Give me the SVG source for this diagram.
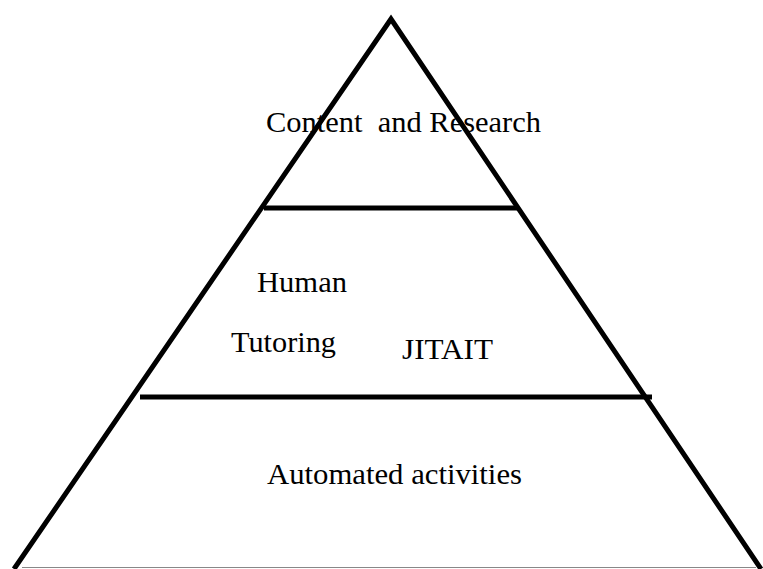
<svg xmlns="http://www.w3.org/2000/svg" width="763" height="569" viewBox="0 0 763 569">
<style>
.edge{stroke:#000;stroke-width:5;fill:none;stroke-linejoin:miter}
.lbl{font-family:"Liberation Serif","Times New Roman",serif;font-size:30px;fill:#000}
</style>
<rect width="763" height="569" fill="#fff"/>
<g id="connectors">
<line x1="22" y1="567.5" x2="756" y2="567.5" stroke="#888" stroke-width="1"/>
<polyline class="edge" points="14,569 391,19 761,569"/>
<line class="edge" x1="264" y1="208" x2="518" y2="208"/>
<line class="edge" x1="140" y1="397" x2="652" y2="397"/>
</g>
<g id="top">
<text class="lbl" x="266" y="132" xml:space="preserve" textLength="275" lengthAdjust="spacingAndGlyphs">Content  and Research</text>
</g>
<g id="middle">
<text class="lbl" x="257" y="292" textLength="90" lengthAdjust="spacingAndGlyphs">Human</text>
<text class="lbl" x="231" y="352" textLength="105" lengthAdjust="spacingAndGlyphs">Tutoring</text>
<text class="lbl" x="402" y="359" textLength="91" lengthAdjust="spacingAndGlyphs">JITAIT</text>
</g>
<g id="bottom">
<text class="lbl" x="267" y="484" textLength="255" lengthAdjust="spacingAndGlyphs">Automated activities</text>
</g>
</svg>
